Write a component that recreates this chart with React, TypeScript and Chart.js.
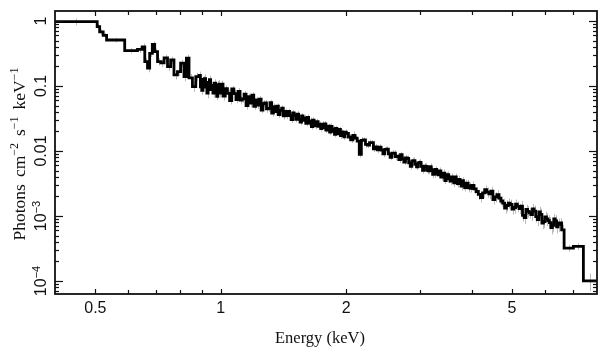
import React, { useEffect, useRef } from "react";
import { Chart, registerables } from "chart.js";

Chart.register(...registerables);

// Lower bin edges (keV) of the unfolded spectrum
const binLo = [
  // 0.4 - 0.887
  0.4, 0.505, 0.512, 0.522, 0.532, 0.588, 0.631, 0.648, 0.657, 0.667, 0.675, 0.685, 0.694,
  0.705, 0.718, 0.731, 0.745, 0.758, 0.772, 0.787, 0.801, 0.816, 0.827, 0.839, 0.855, 0.871,
  // 0.887 - 1.0
  0.887, 0.8935, 0.9, 0.9065, 0.913, 0.9195, 0.926, 0.9325, 0.939, 0.9455, 0.952, 0.9585,
  0.965, 0.9715, 0.978, 0.984, 0.99, 0.995,
  // 1.0 - 2.0
  1.0, 1.0125, 1.025, 1.0375, 1.05, 1.0625, 1.075, 1.0875, 1.1, 1.1125, 1.125, 1.1375, 1.15,
  1.1625, 1.175, 1.1875, 1.2, 1.2125, 1.225, 1.2375, 1.25, 1.2625, 1.275, 1.2875, 1.3, 1.3125,
  1.325, 1.3375, 1.35, 1.3625, 1.375, 1.3875, 1.4, 1.4125, 1.425, 1.4375, 1.45, 1.4625, 1.475,
  1.4875, 1.5, 1.5125, 1.525, 1.5375, 1.55, 1.5625, 1.575, 1.5875, 1.6, 1.6125, 1.625, 1.6375,
  1.65, 1.6625, 1.675, 1.6875, 1.7, 1.7125, 1.725, 1.7375, 1.75, 1.7625, 1.775, 1.7875, 1.8,
  1.8125, 1.825, 1.8375, 1.85, 1.8625, 1.875, 1.8875, 1.9, 1.9125, 1.925, 1.9375, 1.95, 1.9625,
  1.975, 1.9875,
  // 2.0 - 4.0
  2.0, 2.025, 2.05, 2.075, 2.1, 2.125, 2.15, 2.175, 2.2, 2.225, 2.25, 2.275, 2.3, 2.325, 2.35,
  2.375, 2.4, 2.425, 2.45, 2.475, 2.5, 2.525, 2.55, 2.575, 2.6, 2.625, 2.65, 2.675, 2.7, 2.725,
  2.75, 2.775, 2.8, 2.825, 2.85, 2.875, 2.9, 2.925, 2.95, 2.975, 3.0, 3.025, 3.05, 3.075, 3.1,
  3.125, 3.15, 3.175, 3.2, 3.225, 3.25, 3.275, 3.3, 3.325, 3.35, 3.375, 3.4, 3.425, 3.45, 3.475,
  3.5, 3.525, 3.55, 3.575, 3.6, 3.625, 3.65, 3.675, 3.7, 3.725, 3.75, 3.775, 3.8, 3.825, 3.85,
  3.875, 3.9, 3.925, 3.95, 3.975,
  // 4.0 - 6.67
  4.0, 4.05, 4.1, 4.15, 4.2, 4.25, 4.3, 4.35, 4.4, 4.45, 4.5, 4.55, 4.6, 4.65, 4.7, 4.75, 4.8,
  4.85, 4.9, 4.95, 5.0, 5.05, 5.1, 5.15, 5.2, 5.25, 5.3, 5.35, 5.4, 5.45, 5.5, 5.55, 5.6, 5.65,
  5.7, 5.75, 5.8, 5.85, 5.9, 5.95, 6.0, 6.05, 6.1, 6.15, 6.2, 6.25, 6.3, 6.35, 6.4, 6.45,
  6.5, 6.58,
  // wide high-energy bins
  6.67, 7.02, 7.42,
];
const lastEdge = 8.0;

// Photons cm^-2 s^-1 keV^-1 per bin
const flux = [
  0.975, 0.82, 0.68, 0.6, 0.51, 0.35, 0.367, 0.4, 0.237, 0.189, 0.318, 0.438, 0.337,
  0.237, 0.226, 0.27, 0.198, 0.251, 0.148, 0.166, 0.224, 0.139, 0.267, 0.133, 0.098, 0.139,

  0.1459, 0.0969, 0.086, 0.1268, 0.1302, 0.096, 0.0776, 0.1137, 0.1251, 0.0881, 0.1019, 0.0776,
  0.111, 0.0866, 0.0694, 0.1041, 0.1068, 0.0774,

  0.1069, 0.0701, 0.0906, 0.0769, 0.0597, 0.0903, 0.0762, 0.0617, 0.0827, 0.0606, 0.0634, 0.0752,
  0.0498, 0.0684, 0.0546, 0.0723, 0.0486, 0.061, 0.0507, 0.0625, 0.0427, 0.0536, 0.0551, 0.0443,
  0.0452, 0.0556, 0.0383, 0.0483, 0.0402, 0.0488, 0.0364, 0.0422, 0.0458, 0.0346, 0.0405, 0.0351,
  0.0407, 0.0349, 0.0304, 0.0385, 0.0354, 0.0306, 0.037, 0.0307, 0.0277, 0.0347, 0.0295, 0.0322,
  0.0267, 0.0328, 0.0269, 0.0291, 0.0238, 0.0298, 0.0264, 0.0243, 0.0283, 0.024, 0.0259, 0.022,
  0.0258, 0.0229, 0.0261, 0.021, 0.022, 0.024, 0.0195, 0.0239, 0.02, 0.0218, 0.018, 0.0222,
  0.0202, 0.0184, 0.0215, 0.0173, 0.0196, 0.0181, 0.0165, 0.0195,

  0.0187, 0.0164, 0.0148, 0.0174, 0.0158, 0.0142, 0.00887, 0.0146, 0.0148, 0.0126, 0.0123, 0.0134,
  0.0134, 0.0108, 0.0116, 0.0104, 0.0115, 0.0103, 0.009, 0.0106, 0.01064, 0.00901, 0.008, 0.00927,
  0.00924, 0.00821, 0.00829, 0.00739, 0.00875, 0.00758, 0.00677, 0.00781, 0.00766, 0.00659,
  0.00582, 0.00704, 0.00711, 0.0062, 0.00568, 0.00654, 0.00668, 0.00579, 0.00503, 0.00582,
  0.00579, 0.00503, 0.00493, 0.00576, 0.00517, 0.00437, 0.00439, 0.0052, 0.00485, 0.00431,
  0.00493, 0.00396, 0.0041, 0.00457, 0.0035, 0.00419, 0.00431, 0.00372, 0.00343, 0.004,
  0.00371, 0.00324, 0.00399, 0.00336, 0.00314, 0.00365, 0.00339, 0.00287, 0.0035, 0.00299,
  0.00274, 0.00319, 0.0032, 0.0027, 0.0029, 0.00267,

  0.00295, 0.00262, 0.00238, 0.00215, 0.00192, 0.00226, 0.00255, 0.00232, 0.00218, 0.0024,
  0.00178, 0.00196, 0.00212, 0.00188, 0.0017, 0.00158, 0.00132, 0.00145, 0.00158, 0.0015,
  0.00128, 0.00135, 0.00152, 0.0014, 0.0013, 0.00142, 0.00102, 0.00094, 0.00126, 0.00118,
  0.00112, 0.00105, 0.00128, 0.00119, 0.00098, 0.00088, 0.00115, 0.00106, 0.00078, 0.00082,
  0.00097, 0.0009, 0.00085, 0.00079, 0.00066, 0.00072, 0.0009, 0.00084, 0.00068, 0.00074,
  0.00078, 0.00061,

  0.00032, 0.00034, 0.0001,
];

// relative 1-sigma errors per bin
const relErr = [
  0.12, 0.1, 0.1, 0.1, 0.08, 0.09, 0.12, 0.12, 0.13, 0.14, 0.12, 0.11, 0.12,
  0.13, 0.13, 0.12, 0.14, 0.13, 0.15, 0.14, 0.13, 0.15, 0.13, 0.15, 0.17, 0.15,

  0.14, 0.16, 0.15, 0.13, 0.16, 0.14, 0.17, 0.13, 0.15, 0.16, 0.13, 0.15, 0.14, 0.17, 0.13, 0.15,
  0.16, 0.14,

  0.13, 0.15, 0.12, 0.14, 0.13, 0.11, 0.14, 0.12, 0.12, 0.14, 0.13, 0.11, 0.13, 0.12, 0.14, 0.11,
  0.12, 0.11, 0.13, 0.12, 0.1, 0.12, 0.11, 0.13, 0.12, 0.1, 0.12, 0.11, 0.13, 0.1, 0.12, 0.11,
  0.1, 0.12, 0.11, 0.12, 0.1, 0.12, 0.11, 0.1, 0.12, 0.1, 0.11, 0.12, 0.1, 0.11, 0.1, 0.12,
  0.1, 0.11, 0.1, 0.12, 0.1, 0.11, 0.1, 0.12, 0.1, 0.11, 0.1, 0.1, 0.12, 0.1, 0.11, 0.1,
  0.11, 0.1, 0.1, 0.12, 0.1, 0.11, 0.1, 0.1, 0.11, 0.1, 0.1, 0.12, 0.1, 0.11, 0.1, 0.1,

  0.1, 0.11, 0.1, 0.15, 0.1, 0.11, 0.1, 0.12, 0.1, 0.11, 0.1, 0.12, 0.1, 0.11, 0.1, 0.12,
  0.1, 0.12, 0.11, 0.1, 0.11, 0.12, 0.1, 0.12, 0.11, 0.12, 0.1, 0.12, 0.11, 0.12, 0.1, 0.12,
  0.11, 0.13, 0.11, 0.12, 0.12, 0.13, 0.11, 0.12, 0.12, 0.13, 0.11, 0.12, 0.12, 0.13, 0.11, 0.12,
  0.12, 0.13, 0.12, 0.11, 0.13, 0.12, 0.13, 0.12, 0.13, 0.14, 0.12, 0.13, 0.13, 0.14, 0.12, 0.13,
  0.13, 0.14, 0.13, 0.14, 0.13, 0.14, 0.13, 0.14, 0.13, 0.15, 0.13, 0.14, 0.13, 0.15, 0.13, 0.14,

  0.15, 0.17, 0.16, 0.18, 0.16, 0.17, 0.16, 0.18, 0.17, 0.18, 0.16, 0.18, 0.17, 0.19, 0.18, 0.17,
  0.18, 0.2, 0.18, 0.19, 0.18, 0.2, 0.18, 0.19, 0.18, 0.2, 0.19, 0.2, 0.18, 0.21, 0.19, 0.21,
  0.2, 0.21, 0.19, 0.21, 0.2, 0.22, 0.2, 0.21, 0.2, 0.22, 0.21, 0.22, 0.21, 0.22, 0.2, 0.23,
  0.21, 0.23, 0.18, 0.2,

  0.12, 0.12, 0.3,
];

const xMin = 0.4;
const xMax = 8.0;
const yMin = 6.3e-5;
const yMax = 1.425;

const xMajorTicks = [0.5, 1, 2, 5];
const xMajorLabels = ["0.5", "1", "2", "5"];
const xMinorTicks = [0.6, 0.7, 0.8, 0.9, 3, 4, 6, 7];
const yMajorTicks = [1, 0.1, 0.01, 0.001, 0.0001];
const yLabelBase = ["1", "0.1", "0.01", "10", "10"];
const yLabelExp = ["", "", "", "−3", "−4"];
const yMinorMultipliers = [2, 3, 4, 5, 6, 7, 8, 9];

const xTitle = "Energy (keV)";
const yTitleParts = ["Photons", "cm", "−2", "s", "−1", "keV", "−1"];
const yTitleIsSup = [false, false, true, false, true, false, true];
const yTitleGapBefore = [0, 7, 0, 7, 0, 7, 0];

const SANS = "'Liberation Sans', Arial, Helvetica, sans-serif";
const SERIF = "'Liberation Serif', 'Times New Roman', Times, serif";

const errorBarPlugin = {
  id: "errorBars",
  beforeDatasetsDraw(chart: any) {
    const { ctx, chartArea: a } = chart;
    const xs = chart.scales.x;
    const ys = chart.scales.y;
    ctx.save();
    ctx.beginPath();
    ctx.rect(a.left, a.top, a.right - a.left, a.bottom - a.top);
    ctx.clip();
    ctx.strokeStyle = "#bcbcbc";
    ctx.lineWidth = 1;
    const n = Math.min(binLo.length, flux.length, relErr.length);
    for (let i = 0; i < n; i++) {
      const lo = binLo[i];
      const hi = i + 1 < binLo.length ? binLo[i + 1] : lastEdge;
      const xc = Math.sqrt(lo * hi);
      const px = Math.round(xs.getPixelForValue(xc)) + 0.5;
      const v = flux[i];
      const e = relErr[i];
      const y1 = ys.getPixelForValue(v * (1 - e));
      const y2 = ys.getPixelForValue(v * (1 + e));
      ctx.beginPath();
      ctx.moveTo(px, y1);
      ctx.lineTo(px, y2);
      ctx.stroke();
    }
    ctx.restore();
  },
};

const framePlugin = {
  id: "frameAxes",
  afterDatasetsDraw(chart: any) {
    const { ctx, chartArea: a } = chart;
    const xs = chart.scales.x;
    const ys = chart.scales.y;
    ctx.save();
    ctx.strokeStyle = "#111";
    ctx.lineWidth = 1.2;
    const seg = (x1: number, y1: number, x2: number, y2: number) => {
      ctx.beginPath();
      ctx.moveTo(x1, y1);
      ctx.lineTo(x2, y2);
      ctx.stroke();
    };
    const xTick = (v: number, len: number) => {
      const p = Math.round(xs.getPixelForValue(v)) + 0.5;
      seg(p, a.bottom, p, a.bottom - len);
      seg(p, a.top, p, a.top + len);
    };
    xMajorTicks.forEach((v) => xTick(v, 5));
    xMinorTicks.forEach((v) => xTick(v, 4));
    const yTick = (v: number, len: number) => {
      const p = Math.round(ys.getPixelForValue(v)) + 0.5;
      seg(a.left, p, a.left + len, p);
      seg(a.right, p, a.right - len, p);
    };
    yMajorTicks.forEach((v) => yTick(v, 8));
    for (let d = -5; d <= 0; d++) {
      const base = Math.pow(10, d);
      yMinorMultipliers.forEach((m) => {
        const v = m * base;
        if (v > yMin && v < yMax) yTick(v, 4);
      });
    }
    ctx.lineWidth = 1.8;
    ctx.strokeRect(a.left, a.top, a.right - a.left, a.bottom - a.top);

    ctx.fillStyle = "#111";
    ctx.font = `16px ${SANS}`;
    ctx.textAlign = "center";
    ctx.textBaseline = "alphabetic";
    xMajorTicks.forEach((v, i) => {
      ctx.fillText(xMajorLabels[i], xs.getPixelForValue(v), 313);
    });

    yMajorTicks.forEach((v, i) => {
      const py = ys.getPixelForValue(v);
      ctx.save();
      ctx.translate(45.5, py);
      ctx.rotate(-Math.PI / 2);
      ctx.textAlign = "left";
      ctx.font = `16px ${SANS}`;
      const w1 = ctx.measureText(yLabelBase[i]).width;
      let w2 = 0;
      if (yLabelExp[i]) {
        ctx.font = `11px ${SANS}`;
        w2 = ctx.measureText(yLabelExp[i]).width;
      }
      const start = -(w1 + w2) / 2;
      ctx.font = `16px ${SANS}`;
      ctx.fillText(yLabelBase[i], start, 0);
      if (yLabelExp[i]) {
        ctx.font = `11px ${SANS}`;
        ctx.fillText(yLabelExp[i], start + w1, -6);
      }
      ctx.restore();
    });

    ctx.font = `16.5px ${SERIF}`;
    ctx.textAlign = "center";
    ctx.fillText(xTitle, 320, 343);

    ctx.save();
    ctx.translate(25, 154);
    ctx.rotate(-Math.PI / 2);
    ctx.textAlign = "left";
    const mainFont = `17.5px ${SERIF}`;
    const supFont = `12px ${SERIF}`;
    let total = 0;
    const widths: number[] = [];
    yTitleParts.forEach((t, i) => {
      ctx.font = yTitleIsSup[i] ? supFont : mainFont;
      const w = ctx.measureText(t).width;
      widths.push(w);
      total += w + yTitleGapBefore[i];
    });
    let cx = -total / 2;
    yTitleParts.forEach((t, i) => {
      cx += yTitleGapBefore[i];
      ctx.font = yTitleIsSup[i] ? supFont : mainFont;
      ctx.fillText(t, cx, yTitleIsSup[i] ? -7 : 0);
      cx += widths[i];
    });
    ctx.restore();

    ctx.restore();
  },
};

export default function App() {
  const canvasRef = useRef<HTMLCanvasElement | null>(null);

  useEffect(() => {
    if (!canvasRef.current) return;
    const n = Math.min(binLo.length, flux.length);
    const points: { x: number; y: number }[] = [];
    for (let i = 0; i < n; i++) points.push({ x: binLo[i], y: flux[i] });
    points.push({ x: lastEdge, y: flux[n - 1] });
    const chart = new Chart(canvasRef.current, {
      type: "line",
      data: {
        datasets: [
          {
            data: points,
            stepped: "before",
            borderColor: "#000",
            borderWidth: 2.8,
            pointRadius: 0,
            fill: false,
            tension: 0,
          },
        ],
      },
      options: {
        animation: false,
        responsive: true,
        maintainAspectRatio: false,
        parsing: false,
        layout: { padding: { left: 55, right: 12, top: 11, bottom: 63 } },
        plugins: { legend: { display: false }, tooltip: { enabled: false } },
        events: [],
        scales: {
          x: { type: "logarithmic", min: xMin, max: xMax, display: false },
          y: { type: "logarithmic", min: yMin, max: yMax, display: false },
        },
      },
      plugins: [errorBarPlugin, framePlugin],
    } as any);
    return () => chart.destroy();
  }, []);

  return (
    <div style={{ position: "fixed", left: 0, top: 0, width: 609, height: 357, background: "#fff" }}>
      <canvas ref={canvasRef} />
    </div>
  );
}
